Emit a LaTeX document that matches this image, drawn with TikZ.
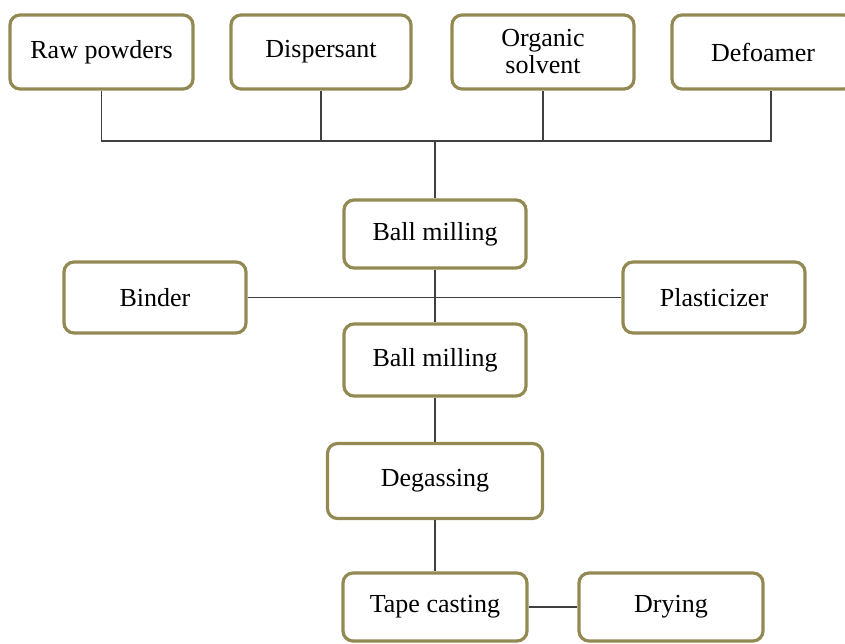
\documentclass[tikz,border=0pt]{standalone}
\usepackage{fontspec}
\setmainfont{Liberation Serif}
\usepackage{xcolor}
\usetikzlibrary{positioning, calc}
\definecolor{boxline}{HTML}{938953}
\definecolor{wirecol}{HTML}{404040}

\begin{document}
\begin{tikzpicture}[x=0.5pt,y=-0.5pt,
    stepbox/.style={draw=boxline, line width=1.6pt, rounded corners=5pt, fill=white,
      align=center, inner sep=0pt, minimum width=91pt, minimum height=35pt,
      font=\fontsize{13}{13.5}\selectfont},
    wire/.style={draw=wirecol, line width=0.9pt}]
    \useasboundingbox (0,0) rectangle (845,643);

    % ingredients
    \node[stepbox, minimum width=91.5pt, minimum height=37pt] (raw) at (101.5,52) {Raw powders};
    \node[stepbox, minimum width=90pt, minimum height=37pt] (disp) at (321,52) {Dispersant};
    \node[stepbox, minimum height=37pt] (org) at (543,52) {Organic\\solvent};
    \node[stepbox, minimum height=37pt] (defo) at (763,52) {Defoamer};

    % process
    \node[stepbox, minimum height=34pt] (mill1) at (435,234) {Ball milling};
    \node[stepbox, minimum height=35.5pt] (binder) at (155,297.5) {Binder};
    \node[stepbox, minimum height=35.5pt] (plast) at (714,297.5) {Plasticizer};
    \node[stepbox, minimum height=36pt] (mill2) at (435,360) {Ball milling};
    \node[stepbox, minimum width=107.5pt, minimum height=37.5pt] (degas) at (435,481) {Degassing};
    \node[stepbox, minimum width=92pt, minimum height=34pt] (tape) at (435,607) {Tape casting};
    \node[stepbox, minimum width=92pt, minimum height=34pt] (dry) at (671,607) {Drying};

    \coordinate (bus) at (435,141);

    \draw[wire] (raw.south) |- (bus) -| ([xshift=4pt]defo.south);
    \draw[wire] (disp.south) -- (disp.south |- bus);
    \draw[wire] (org.south) -- (org.south |- bus);
    \draw[wire] (bus) -- (mill1);
    \draw[wire] (mill1) -- (mill2);
    \draw[wire] (binder) -- (plast);
    \draw[wire] (mill2) -- (degas);
    \draw[wire] (degas) -- (tape);
    \draw[wire] (tape) -- (dry);
\end{tikzpicture}
\end{document}
